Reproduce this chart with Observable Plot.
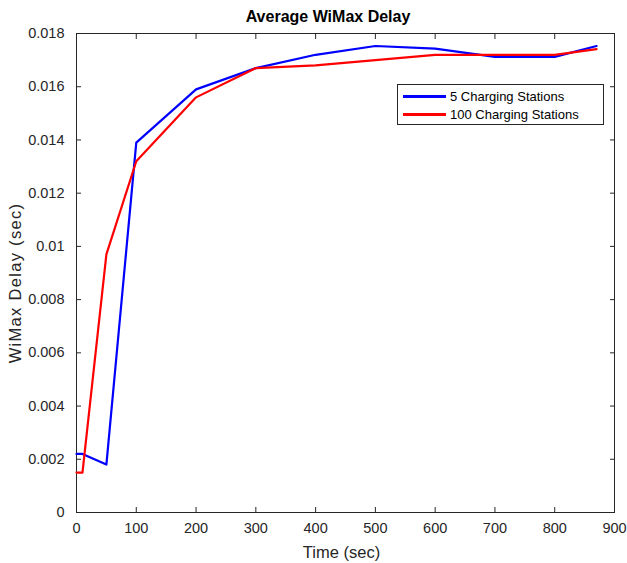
<!DOCTYPE html>
<html>
<head>
<meta charset="utf-8">
<script src="https://cdn.jsdelivr.net/npm/d3@7"></script>
<script src="https://cdn.jsdelivr.net/npm/@observablehq/plot@0.6"></script>
<style>
  body { margin: 0; background: #fff; font-family: "Liberation Sans", Arial, sans-serif; }
  #wrap { position: relative; width: 627px; height: 563px; }
  #title { position: absolute; left: 228px; width: 200px; top: 8px; text-align: center; font-weight: bold; font-size: 16px; color: #000; }
  #legend { position: absolute; left: 397px; top: 84px; width: 205px; height: 39px; border: 1px solid #262626; background: #fff; font-size: 13px; color: #000; }
  .row { position: absolute; left: 5px; height: 18px; display: flex; align-items: center; }
  .sw { width: 43px; height: 0; border-top: 3px solid; margin-right: 4px; }
  .ylab text { letter-spacing: 1.3px; }
</style>
</head>
<body>
<div id="wrap">
  <div id="chart"></div>
  <div id="title">Average WiMax Delay</div>
  <div id="legend"></div>
</div>
<script>
const times = [0, 10, 50, 100, 200, 300, 400, 500, 600, 700, 800, 870];
const stations5 = [0.0022, 0.0022, 0.0018, 0.0139, 0.0159, 0.0167, 0.0172, 0.01753, 0.01743, 0.01712, 0.01712, 0.01753];
const stations100 = [0.0015, 0.0015, 0.0097, 0.0132, 0.0156, 0.0167, 0.0168, 0.0170, 0.0172, 0.0172, 0.0172, 0.01741];
const seriesNames = ["5 Charging Stations", "100 Charging Stations"];
const seriesColors = ["#0000ff", "#ff0000"];
const xTicks = [0, 100, 200, 300, 400, 500, 600, 700, 800, 900];
const yTicks = [0, 0.002, 0.004, 0.006, 0.008, 0.01, 0.012, 0.014, 0.016, 0.018];

const data = [];
[stations5, stations100].forEach((vals, i) => {
  vals.forEach((v, j) => data.push({ time: times[j], delay: v, series: seriesNames[i] }));
});

const fmtY = d => String(+d.toFixed(3));
const ink = "#262626";

const chart = Plot.plot({
  width: 627,
  height: 563,
  marginLeft: 76,
  marginRight: 13,
  marginTop: 33,
  marginBottom: 51,
  style: { fontFamily: "'Liberation Sans', Arial, sans-serif", fontSize: "14px", color: ink, background: "#fff" },
  x: { domain: [0, 900] },
  y: { domain: [0, 0.018] },
  color: { domain: seriesNames, range: seriesColors },
  marks: [
    Plot.frame({ stroke: ink, strokeWidth: 1 }),
    Plot.axisX(xTicks, { tickSize: 0, tickPadding: 10, fontSize: 14.5, label: null }),
    Plot.axisX(xTicks, { tickSize: -5, tickFormat: () => "", label: null, stroke: ink }),
    Plot.axisX(xTicks, { anchor: "top", tickSize: -5, tickFormat: () => "", label: null, stroke: ink }),
    Plot.axisY(yTicks, { tickSize: 0, tickPadding: 12, fontSize: 14.5, tickFormat: fmtY, label: null }),
    Plot.axisY(yTicks, { tickSize: -5, tickFormat: () => "", label: null, stroke: ink }),
    Plot.axisY(yTicks, { anchor: "right", tickSize: -5, tickFormat: () => "", label: null, stroke: ink }),
    Plot.text(["Time (sec)"], { frameAnchor: "bottom", textAnchor: "middle", dx: -4, dy: 45, fontSize: 16.5, fill: ink }),
    Plot.text(["WiMax Delay (sec)"], { frameAnchor: "left", textAnchor: "middle", dx: -61, dy: 10, rotate: -90, fontSize: 16.5, fill: ink, className: "ylab" }),
    Plot.line(data, { x: "time", y: "delay", z: "series", stroke: "series", strokeWidth: 2.2 })
  ]
});
document.getElementById("chart").appendChild(chart);

const legend = document.getElementById("legend");
seriesNames.forEach((name, i) => {
  const row = document.createElement("div");
  row.className = "row";
  row.style.top = (2 + i * 18) + "px";
  row.innerHTML = `<span class="sw" style="border-color:${seriesColors[i]}"></span><span>${name}</span>`;
  legend.appendChild(row);
});
</script>
</body>
</html>
